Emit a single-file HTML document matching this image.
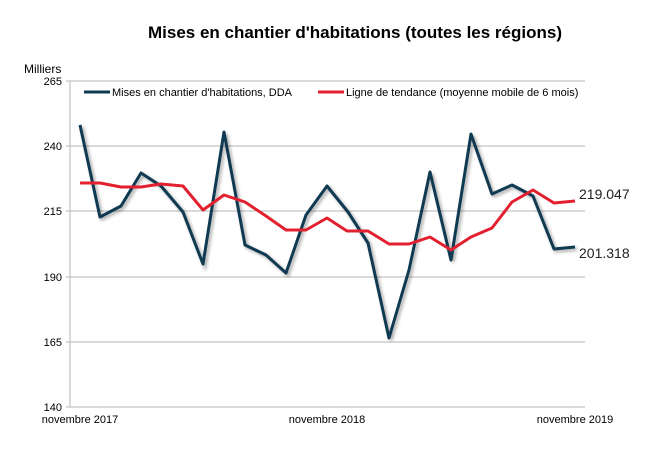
<!DOCTYPE html>
<html><head><meta charset="utf-8"><style>
body{margin:0;background:#fff;width:650px;height:447px;overflow:hidden;font-family:"Liberation Sans",sans-serif}
</style></head><body>
<svg width="650" height="447" xmlns="http://www.w3.org/2000/svg" font-family="Liberation Sans, sans-serif">
<defs><filter id="sh" x="-10%" y="-10%" width="120%" height="120%"><feGaussianBlur stdDeviation="1.5"/></filter></defs>
<text x="355" y="38" text-anchor="middle" font-size="17" font-weight="bold" fill="#000">Mises en chantier d'habitations  (toutes les régions)</text>
<text x="24" y="73" font-size="12" fill="#000">Milliers</text>
<g stroke="#b5b5b5" stroke-width="1">
<line x1="70" y1="81" x2="585" y2="81"/><line x1="70" y1="146" x2="585" y2="146"/><line x1="70" y1="211" x2="585" y2="211"/><line x1="70" y1="277" x2="585" y2="277"/><line x1="70" y1="342" x2="585" y2="342"/><line x1="70" y1="407" x2="585" y2="407"/>
<line x1="70" y1="81" x2="70" y2="407"/>
<line x1="66" y1="81" x2="70" y2="81"/><line x1="66" y1="146" x2="70" y2="146"/><line x1="66" y1="211" x2="70" y2="211"/><line x1="66" y1="277" x2="70" y2="277"/><line x1="66" y1="342" x2="70" y2="342"/><line x1="66" y1="407" x2="70" y2="407"/>
</g>
<g font-size="11" fill="#000" text-anchor="end">
<text x="62" y="85">265</text><text x="62" y="150">240</text><text x="62" y="215">215</text><text x="62" y="281">190</text><text x="62" y="346">165</text><text x="62" y="411">140</text>
</g>
<g font-size="11" fill="#000" text-anchor="middle">
<text x="80" y="423">novembre 2017</text><text x="327" y="423">novembre 2018</text><text x="575" y="423">novembre 2019</text>
</g>
<line x1="84" y1="92" x2="110" y2="92" stroke="#0f3a52" stroke-width="3"/>
<text x="112" y="96" font-size="11">Mises en chantier d'habitations, DDA</text>
<line x1="318" y1="92" x2="344" y2="92" stroke="#e3202f" stroke-width="3"/>
<text x="346" y="96" font-size="11">Ligne de tendance (moyenne mobile de 6 mois)</text>
<polyline fill="none" stroke="#000" stroke-opacity="0.35" stroke-width="3" filter="url(#sh)" transform="translate(2,2)" points="80,125 100,217 121,206 141,173 161,186 183,212 203,264 224,132 245,245 266,255 286,273 306,215 327,186 348,212 368,243 389,338 409,270 430,172 451,260 471,134 492,194 512,185 533,196 554,249 575,247"/>
<polyline fill="none" stroke="#0f3a52" stroke-width="3" stroke-linejoin="round" points="80,125 100,217 121,206 141,173 161,186 183,212 203,264 224,132 245,245 266,255 286,273 306,215 327,186 348,212 368,243 389,338 409,270 430,172 451,260 471,134 492,194 512,185 533,196 554,249 575,247"/>
<polyline fill="none" stroke="#e3202f" stroke-width="3" stroke-linejoin="round" points="80,183 100,183 121,187 141,187 161,184 183,186 203,210 224,195 245,202 266,216 286,230 306,230 327,218 347,231 368,231 389,244 409,244 430,237 451,250 471,237 492,228 512,202 533,190 554,203 575,201"/>
<text x="579" y="199" font-size="14" fill="#222">219.047</text>
<text x="579" y="258" font-size="14" fill="#222">201.318</text>
</svg>
</body></html>
